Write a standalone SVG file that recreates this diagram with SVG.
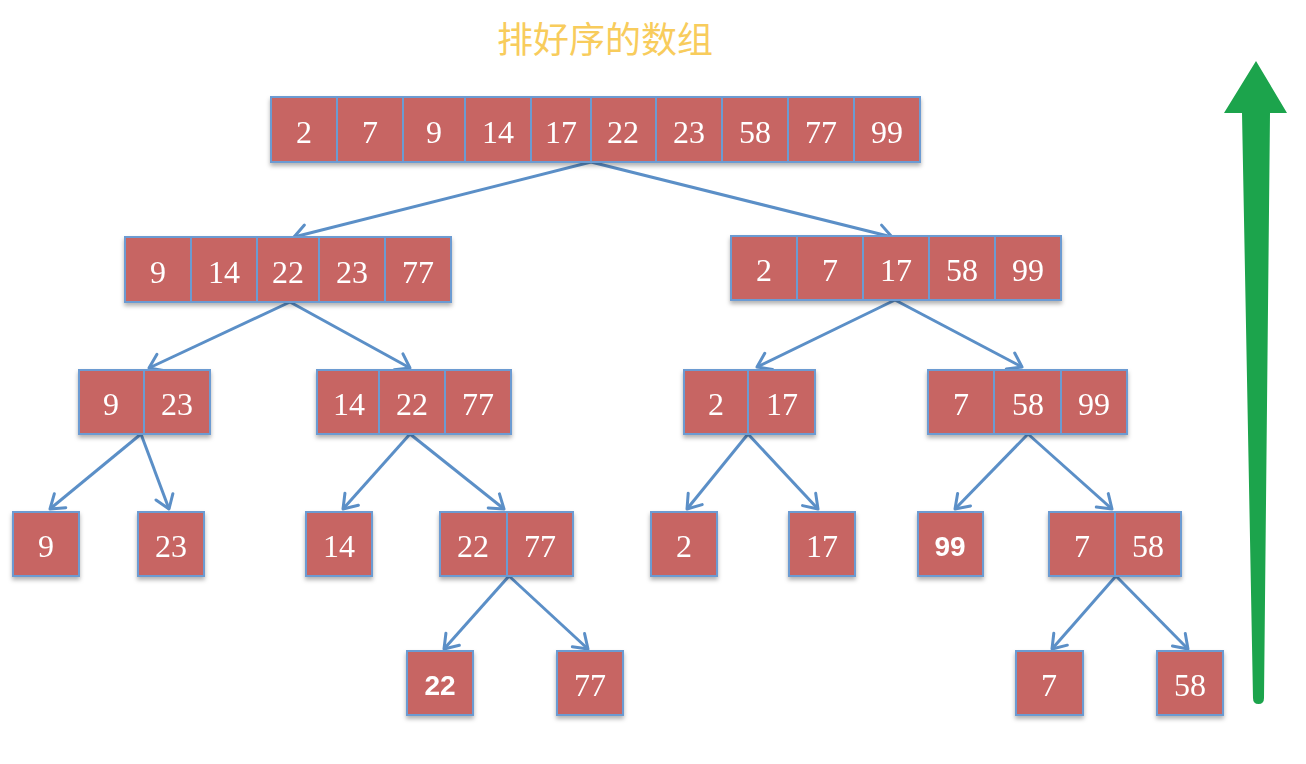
<svg xmlns="http://www.w3.org/2000/svg" width="1306" height="764" viewBox="0 0 1306 764">
<defs>
<style>
.cell{fill:#C76563;stroke:#6C9BD2;stroke-width:2}
.num{font-family:"Liberation Serif","DejaVu Serif",serif;font-size:32px;fill:#fff;text-anchor:middle}
.numb{font-family:"Liberation Sans","DejaVu Sans",sans-serif;font-size:28px;font-weight:bold;fill:#fff;text-anchor:middle}
.con{stroke:#5B8FC7;stroke-width:3;fill:none;marker-end:url(#ah)}
.title{font-family:"Noto Sans CJK SC","Noto Sans",sans-serif;font-size:36px;fill:#F8CC5C;text-anchor:middle}
</style>
<filter id="sh" x="-10%" y="-10%" width="120%" height="130%">
<feDropShadow dx="0" dy="3" stdDeviation="2" flood-color="#000" flood-opacity="0.3"/>
</filter>
<marker id="ah" markerUnits="userSpaceOnUse" markerWidth="30" markerHeight="30" refX="15" refY="15" orient="auto" viewBox="0 0 30 30">
<path d="M2,6 L15,15 L2,24" fill="none" stroke="#5B8FC7" stroke-width="3" stroke-linecap="round" stroke-linejoin="round"/>
</marker>
</defs>
<rect width="1306" height="764" fill="#fff"/>
<text class="title" x="605" y="53">排好序的数组</text>

<g id="connectors">
<line class="con" x1="591" y1="162" x2="294" y2="237"/>
<line class="con" x1="591" y1="162" x2="892" y2="237"/>
<line class="con" x1="290" y1="302" x2="149" y2="368"/>
<line class="con" x1="290" y1="302" x2="410" y2="368"/>
<line class="con" x1="895" y1="300" x2="757" y2="367"/>
<line class="con" x1="895" y1="300" x2="1022" y2="367"/>
<line class="con" x1="141" y1="434" x2="50" y2="509"/>
<line class="con" x1="141" y1="434" x2="169" y2="509"/>
<line class="con" x1="410" y1="434" x2="343" y2="509"/>
<line class="con" x1="410" y1="434" x2="504" y2="509"/>
<line class="con" x1="748" y1="434" x2="687" y2="509"/>
<line class="con" x1="748" y1="434" x2="818" y2="509"/>
<line class="con" x1="1028" y1="434" x2="955" y2="509"/>
<line class="con" x1="1028" y1="434" x2="1112" y2="509"/>
<line class="con" x1="509" y1="576" x2="444" y2="649"/>
<line class="con" x1="509" y1="576" x2="588" y2="649"/>
<line class="con" x1="1116" y1="576" x2="1052" y2="649"/>
<line class="con" x1="1116" y1="576" x2="1188" y2="649"/>
</g>

<g id="sorted" filter="url(#sh)">
<rect class="cell" x="271" y="97" width="66" height="65"/>
<rect class="cell" x="337" y="97" width="66" height="65"/>
<rect class="cell" x="403" y="97" width="62" height="65"/>
<rect class="cell" x="465" y="97" width="66" height="65"/>
<rect class="cell" x="531" y="97" width="60" height="65"/>
<rect class="cell" x="591" y="97" width="65" height="65"/>
<rect class="cell" x="656" y="97" width="66" height="65"/>
<rect class="cell" x="722" y="97" width="66" height="65"/>
<rect class="cell" x="788" y="97" width="66" height="65"/>
<rect class="cell" x="854" y="97" width="66" height="65"/>
<text class="num" x="304" y="143">2</text>
<text class="num" x="370" y="143">7</text>
<text class="num" x="434" y="143">9</text>
<text class="num" x="498" y="143">14</text>
<text class="num" x="561" y="143">17</text>
<text class="num" x="623" y="143">22</text>
<text class="num" x="689" y="143">23</text>
<text class="num" x="755" y="143">58</text>
<text class="num" x="821" y="143">77</text>
<text class="num" x="887" y="143">99</text>
</g>

<g id="l2a" filter="url(#sh)">
<rect class="cell" x="125" y="237" width="66" height="65"/>
<rect class="cell" x="191" y="237" width="66" height="65"/>
<rect class="cell" x="257" y="237" width="62" height="65"/>
<rect class="cell" x="319" y="237" width="66" height="65"/>
<rect class="cell" x="385" y="237" width="66" height="65"/>
<text class="num" x="158" y="283">9</text>
<text class="num" x="224" y="283">14</text>
<text class="num" x="288" y="283">22</text>
<text class="num" x="352" y="283">23</text>
<text class="num" x="418" y="283">77</text>
</g>

<g id="l2b" filter="url(#sh)">
<rect class="cell" x="731" y="236" width="66" height="64"/>
<rect class="cell" x="797" y="236" width="66" height="64"/>
<rect class="cell" x="863" y="236" width="66" height="64"/>
<rect class="cell" x="929" y="236" width="66" height="64"/>
<rect class="cell" x="995" y="236" width="66" height="64"/>
<text class="num" x="764" y="281">2</text>
<text class="num" x="830" y="281">7</text>
<text class="num" x="896" y="281">17</text>
<text class="num" x="962" y="281">58</text>
<text class="num" x="1028" y="281">99</text>
</g>

<g id="l3a" filter="url(#sh)">
<rect class="cell" x="79" y="370" width="65" height="64"/>
<rect class="cell" x="144" y="370" width="66" height="64"/>
<text class="num" x="111" y="415">9</text>
<text class="num" x="177" y="415">23</text>
</g>

<g id="l3b" filter="url(#sh)">
<rect class="cell" x="317" y="370" width="62" height="64"/>
<rect class="cell" x="379" y="370" width="66" height="64"/>
<rect class="cell" x="445" y="370" width="66" height="64"/>
<text class="num" x="349" y="415">14</text>
<text class="num" x="412" y="415">22</text>
<text class="num" x="478" y="415">77</text>
</g>

<g id="l3c" filter="url(#sh)">
<rect class="cell" x="684" y="370" width="64" height="64"/>
<rect class="cell" x="748" y="370" width="67" height="64"/>
<text class="num" x="716" y="415">2</text>
<text class="num" x="782" y="415">17</text>
</g>

<g id="l3d" filter="url(#sh)">
<rect class="cell" x="928" y="370" width="66" height="64"/>
<rect class="cell" x="994" y="370" width="67" height="64"/>
<rect class="cell" x="1061" y="370" width="66" height="64"/>
<text class="num" x="961" y="415">7</text>
<text class="num" x="1028" y="415">58</text>
<text class="num" x="1094" y="415">99</text>
</g>

<g id="l4a" filter="url(#sh)">
<rect class="cell" x="13" y="512" width="66" height="64"/>
<text class="num" x="46" y="557">9</text>
</g>
<g id="l4b" filter="url(#sh)">
<rect class="cell" x="138" y="512" width="66" height="64"/>
<text class="num" x="171" y="557">23</text>
</g>
<g id="l4c" filter="url(#sh)">
<rect class="cell" x="306" y="512" width="66" height="64"/>
<text class="num" x="339" y="557">14</text>
</g>
<g id="l4d" filter="url(#sh)">
<rect class="cell" x="440" y="512" width="67" height="64"/>
<rect class="cell" x="507" y="512" width="66" height="64"/>
<text class="num" x="473" y="557">22</text>
<text class="num" x="540" y="557">77</text>
</g>
<g id="l4e" filter="url(#sh)">
<rect class="cell" x="651" y="512" width="66" height="64"/>
<text class="num" x="684" y="557">2</text>
</g>
<g id="l4f" filter="url(#sh)">
<rect class="cell" x="789" y="512" width="66" height="64"/>
<text class="num" x="822" y="557">17</text>
</g>
<g id="l4g" filter="url(#sh)">
<rect class="cell" x="918" y="512" width="65" height="64"/>
<text class="numb" x="950" y="556">99</text>
</g>
<g id="l4h" filter="url(#sh)">
<rect class="cell" x="1049" y="512" width="66" height="64"/>
<rect class="cell" x="1115" y="512" width="66" height="64"/>
<text class="num" x="1082" y="557">7</text>
<text class="num" x="1148" y="557">58</text>
</g>

<g id="l5a" filter="url(#sh)">
<rect class="cell" x="407" y="651" width="66" height="64"/>
<text class="numb" x="440" y="695">22</text>
</g>
<g id="l5b" filter="url(#sh)">
<rect class="cell" x="557" y="651" width="66" height="64"/>
<text class="num" x="590" y="696">77</text>
</g>
<g id="l5c" filter="url(#sh)">
<rect class="cell" x="1016" y="651" width="67" height="64"/>
<text class="num" x="1049" y="696">7</text>
</g>
<g id="l5d" filter="url(#sh)">
<rect class="cell" x="1157" y="651" width="66" height="64"/>
<text class="num" x="1190" y="696">58</text>
</g>

<g id="up-arrow">
<path d="M1256,61 L1287,113 L1270,113 L1264,698 Q1264,704 1258.5,704 Q1253,704 1253,698 L1242,113 L1224,113 Z" fill="#1CA44C"/>
</g>
</svg>
